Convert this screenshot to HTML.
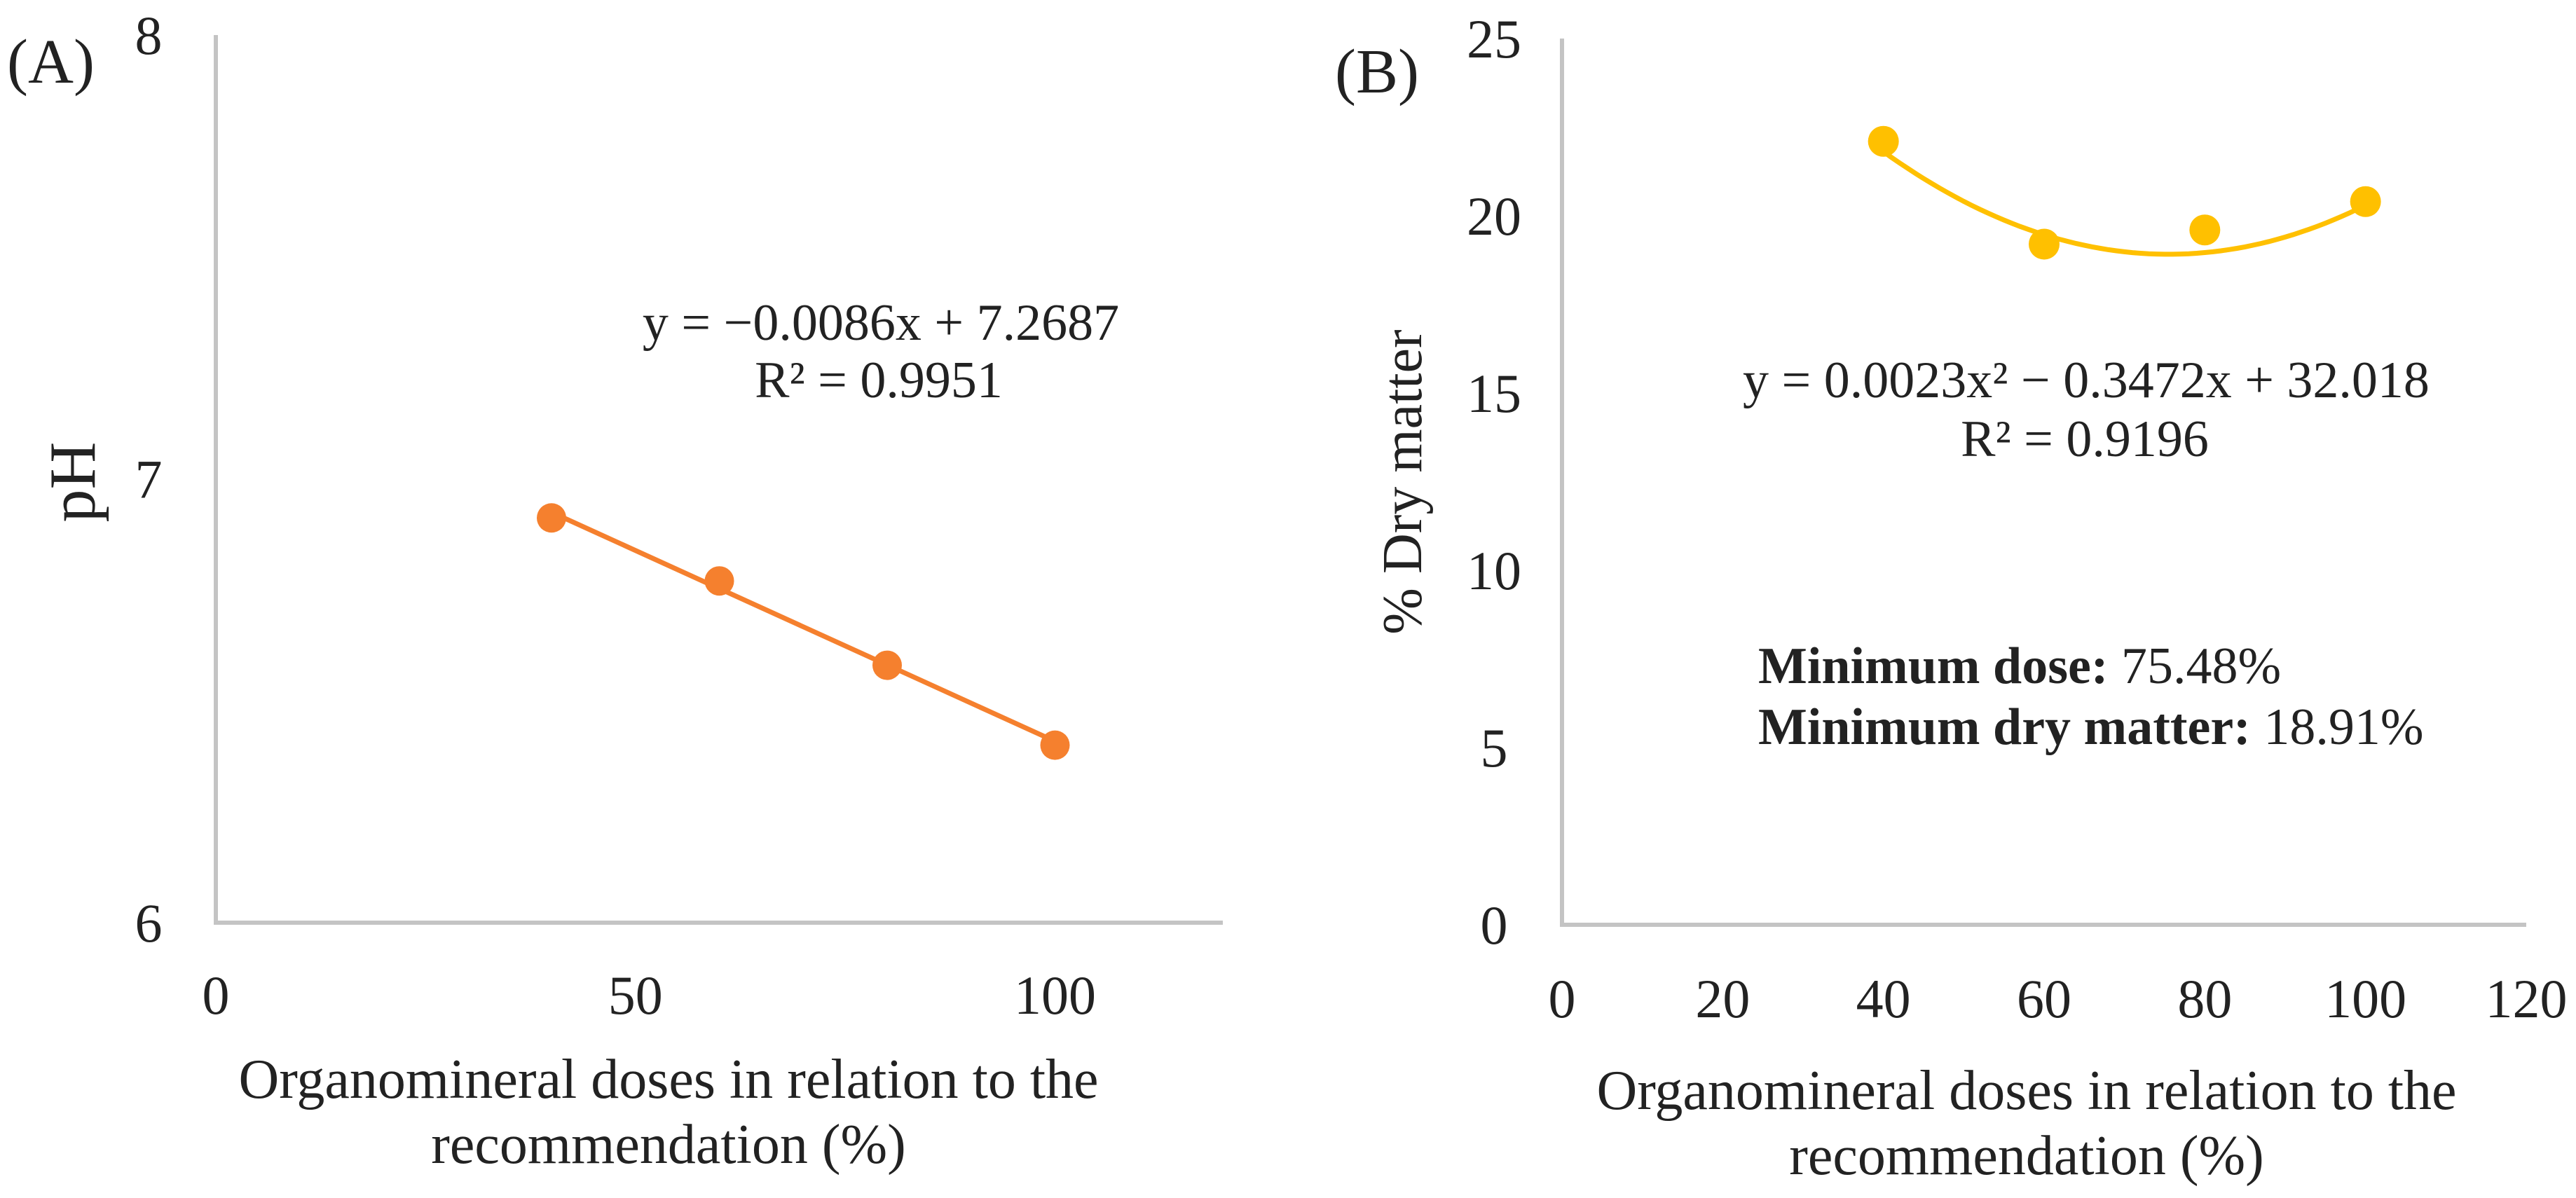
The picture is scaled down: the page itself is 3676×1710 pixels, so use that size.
<!DOCTYPE html>
<html><head><meta charset="utf-8">
<style>
html,body{margin:0;padding:0;background:#fff;}
svg{display:block;font-family:"Liberation Serif",serif;}
</style></head>
<body>
<svg id="chart" width="3676" height="1710" viewBox="0 0 3676 1710" xmlns="http://www.w3.org/2000/svg">
<g id="panelA"></g>
<g id="panelB"></g>
</svg>
<script>
const dosesA = [40, 60, 80, 100];
const phValues = [6.912, 6.77, 6.58, 6.40];
const ticksAX = [0, 50, 100];
const ticksAY = [6, 7, 8];
const dosesB = [40, 60, 80, 100];
const dryMatter = [22.1, 19.2, 19.6, 20.4];
const ticksBX = [0, 20, 40, 60, 80, 100, 120];
const ticksBY = [0, 5, 10, 15, 20, 25];
const fitA = [-0.0086, 7.2687];
const fitB = [0.0023, -0.3472, 32.018];

const NS = "http://www.w3.org/2000/svg";
function mk(parent, tag, attrs, text) {
  const e = document.createElementNS(NS, tag);
  for (const k in attrs) e.setAttribute(k, attrs[k]);
  if (text !== undefined) e.textContent = text;
  parent.appendChild(e);
  return e;
}
const axA = v => 308 + (v - 0) * (1505.5 - 308) / 100;
const ayA = v => 1317 - (v - 6) * (1317 - 50) / 2;
const axB = v => 2229 + v * (3605 - 2229) / 120;
const ayB = v => 1320 - v * (1320 - 55) / 25;

const A = document.getElementById('panelA');
const B = document.getElementById('panelB');

let e;
e = mk(A, 'line', {x1: axA(0), y1: ayA(8), x2: axA(0), y2: ayA(6), stroke: '#c4c4c4', 'stroke-width': 6});


e = mk(A, 'line', {x1: axA(0) - 3, y1: ayA(6), x2: axA(120), y2: ayA(6), stroke: '#c4c4c4', 'stroke-width': 6});


ticksAY.forEach(t => {
  const el = mk(A, 'text', {x: 212, y: ayA(t) + 27, 'font-size': 78, 'text-anchor': 'middle', fill: '#222'}, String(t));
  
  
});
ticksAX.forEach(t => {
  const el = mk(A, 'text', {x: axA(t), y: 1447, 'font-size': 78, 'text-anchor': 'middle', fill: '#222'}, String(t));
  
  
});
e = mk(A, 'line', {x1: axA(dosesA[0]), y1: ayA(fitA[0]*dosesA[0]+fitA[1]), x2: axA(dosesA[3]), y2: ayA(fitA[0]*dosesA[3]+fitA[1]), stroke: '#F5802E', 'stroke-width': 7});


dosesA.forEach((d, i) => {
  const el = mk(A, 'circle', {cx: axA(d), cy: ayA(phValues[i]), r: 21, fill: '#F5802E'});
  
  
});
e = mk(A, 'text', {x: 1257, y: 485, 'font-size': 74, 'text-anchor': 'middle', fill: '#222'}, 'y = −0.0086x + 7.2687');


e = mk(A, 'text', {x: 1254, y: 567, 'font-size': 74, 'text-anchor': 'middle', fill: '#222'}, 'R² = 0.9951');


e = mk(A, 'text', {x: 10, y: 118, 'font-size': 90, fill: '#222'}, '(A)');


e = mk(A, 'text', {x: 0, y: 0, 'font-size': 94, 'text-anchor': 'middle', fill: '#222', transform: 'translate(135,688) rotate(-90)'}, 'pH');


e = mk(A, 'text', {x: 954, y: 1567, 'font-size': 80, 'text-anchor': 'middle', fill: '#222'}, 'Organomineral  doses in relation  to the');


e = mk(A, 'text', {x: 954, y: 1660, 'font-size': 80, 'text-anchor': 'middle', fill: '#222'}, 'recommendation  (%)');



e = mk(B, 'line', {x1: axB(0), y1: ayB(25), x2: axB(0), y2: ayB(0), stroke: '#c4c4c4', 'stroke-width': 6});


e = mk(B, 'line', {x1: axB(0) - 3, y1: ayB(0), x2: axB(120), y2: ayB(0), stroke: '#c4c4c4', 'stroke-width': 6});


ticksBY.forEach(t => {
  const el = mk(B, 'text', {x: 2132, y: ayB(t) + 27, 'font-size': 78, 'text-anchor': 'middle', fill: '#222'}, String(t));
  
  
});
ticksBX.forEach(t => {
  const el = mk(B, 'text', {x: axB(t), y: 1452, 'font-size': 78, 'text-anchor': 'middle', fill: '#222'}, String(t));
  
  
});
let dpath = '';
for (let x = dosesB[0]; x <= dosesB[3] + 0.001; x += 1) {
  const y = fitB[0]*x*x + fitB[1]*x + fitB[2];
  dpath += (dpath ? ' L' : 'M') + axB(x).toFixed(1) + ' ' + ayB(y).toFixed(1);
}
e = mk(B, 'path', {d: dpath, fill: 'none', stroke: '#FFC000', 'stroke-width': 7});


dosesB.forEach((d, i) => {
  const el = mk(B, 'circle', {cx: axB(d), cy: ayB(dryMatter[i]), r: 22, fill: '#FFC000'});
  
  
});
e = mk(B, 'text', {x: 2977, y: 567, 'font-size': 74, 'text-anchor': 'middle', fill: '#222'}, 'y = 0.0023x² −  0.3472x + 32.018');


e = mk(B, 'text', {x: 2975, y: 651, 'font-size': 74, 'text-anchor': 'middle', fill: '#222'}, 'R² = 0.9196');


e = mk(B, 'text', {x: 2509, y: 975, 'font-size': 74, fill: '#222'});


mk(e, 'tspan', {'font-weight': 'bold'}, 'Minimum dose: ');
mk(e, 'tspan', {}, '75.48%');
e = mk(B, 'text', {x: 2509, y: 1062, 'font-size': 74, fill: '#222'});


mk(e, 'tspan', {'font-weight': 'bold'}, 'Minimum dry matter: ');
mk(e, 'tspan', {}, '18.91%');
e = mk(B, 'text', {x: 1905, y: 132, 'font-size': 90, fill: '#222'}, '(B)');


e = mk(B, 'text', {x: 0, y: 0, 'font-size': 80, 'text-anchor': 'middle', fill: '#222', transform: 'translate(2028,688) rotate(-90)'}, '% Dry matter');


e = mk(B, 'text', {x: 2892, y: 1583, 'font-size': 80, 'text-anchor': 'middle', fill: '#222'}, 'Organomineral  doses in relation  to the');


e = mk(B, 'text', {x: 2892, y: 1676, 'font-size': 80, 'text-anchor': 'middle', fill: '#222'}, 'recommendation  (%)');


</script>
</body></html>
